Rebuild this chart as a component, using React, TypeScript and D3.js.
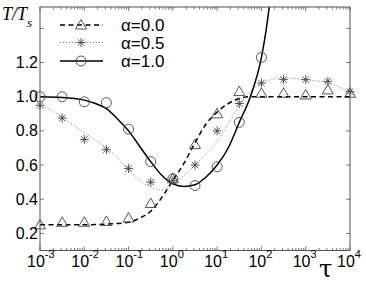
import * as d3 from "d3";

const W = 366;
const H = 284;
const PLOT = { left: 40, right: 350, top: 7, bottom: 250.5 };

// marker positions: exponents of tau (half decades)
const markerExp = [-3, -2.5, -2, -1.5, -1, -0.5, 0, 0.5, 1, 1.5, 2, 2.5, 3, 3.5, 4];
const markA0 = [0.25, 0.265, 0.265, 0.27, 0.29, 0.375, 0.52, 0.72, 0.9, 1.03, 1.02, 1.02, 1.01, 1.04, 1.02];
const markA05 = [0.95, 0.875, 0.75, 0.69, 0.58, 0.5, 0.51, 0.6, 0.8, 0.96, 1.08, 1.1, 1.1, 1.09, 1.03];
const markA1 = [1.0, 1.0, 0.97, 0.965, 0.81, 0.62, 0.52, 0.48, 0.59, 0.85, 1.23];

// theory curves (exponent, value)
const curveA0: [number, number][] = [
  [-3, 0.25], [-2, 0.25], [-1.5, 0.255], [-1, 0.265], [-0.75, 0.29], [-0.5, 0.33],
  [-0.25, 0.41], [0, 0.51], [0.25, 0.61], [0.5, 0.73], [0.75, 0.84], [1, 0.91],
  [1.25, 0.96], [1.5, 0.99], [1.75, 1.0], [2, 1.0], [3, 1.0], [4, 1.0],
];
const curveA05: [number, number][] = [
  [-3, 0.95], [-2.75, 0.92], [-2.5, 0.88], [-2.25, 0.835], [-2, 0.79], [-1.75, 0.745],
  [-1.5, 0.7], [-1.25, 0.64], [-1, 0.57], [-0.75, 0.51], [-0.5, 0.47], [-0.25, 0.455],
  [0, 0.49], [0.25, 0.54], [0.5, 0.6], [0.75, 0.665], [1, 0.74], [1.25, 0.84],
  [1.5, 0.95], [1.75, 1.03], [2, 1.08], [2.5, 1.11], [3, 1.1], [3.5, 1.08], [4, 1.03],
];
const curveA1: [number, number][] = [
  [-3, 1.0], [-2.5, 0.995], [-2, 0.98], [-1.75, 0.96], [-1.5, 0.93], [-1.25, 0.87],
  [-1, 0.8], [-0.75, 0.71], [-0.5, 0.62], [-0.25, 0.54], [0, 0.49], [0.25, 0.475],
  [0.5, 0.485], [0.75, 0.53], [1, 0.6], [1.25, 0.7], [1.5, 0.85], [1.75, 1.0],
  [2, 1.23], [2.1, 1.38], [2.2, 1.57],
];

const xExps = [-3, -2, -1, 0, 1, 2, 3, 4];
const yTicks = [0.2, 0.4, 0.6, 0.8, 1.0, 1.2, 1.4];
const yLabels = ["0.2", "0.4", "0.6", "0.8", "1.0", "1.2"];
const legendLabels = ["α=0.0", "α=0.5", "α=1.0"];

const INK = "#000";
const MARK = "#444";
const AXIS = "#555";

const x = d3.scaleLog().domain([1e-3, 1e4]).range([PLOT.left, PLOT.right]);
const y = d3.scaleLinear().domain([0.1, 1.525]).range([PLOT.bottom, PLOT.top]);

const line = d3
  .line<[number, number]>()
  .x((d) => x(Math.pow(10, d[0])))
  .y((d) => y(d[1]))
  .curve(d3.curveMonotoneX);

const Triangle = ({ cx, cy }: { cx: number; cy: number }) => (
  <path
    d={`M${cx},${cy - 5.5}L${cx + 5.5},${cy + 4}L${cx - 5.5},${cy + 4}Z`}
    fill="none"
    stroke={MARK}
    strokeWidth={0.9}
  />
);

const Star = ({ cx, cy }: { cx: number; cy: number }) => {
  const r = 4.5;
  const a = r * 0.707;
  return (
    <g stroke={MARK} strokeWidth={0.9}>
      <line x1={cx - r} y1={cy} x2={cx + r} y2={cy} />
      <line x1={cx} y1={cy - r} x2={cx} y2={cy + r} />
      <line x1={cx - a} y1={cy - a} x2={cx + a} y2={cy + a} />
      <line x1={cx - a} y1={cy + a} x2={cx + a} y2={cy - a} />
    </g>
  );
};

const Circle = ({ cx, cy }: { cx: number; cy: number }) => (
  <circle cx={cx} cy={cy} r={5} fill="none" stroke={MARK} strokeWidth={0.9} />
);

export default function App() {
  const minor: number[] = [];
  for (let e = -3; e < 4; e++) {
    for (let m = 2; m <= 9; m++) minor.push(m * Math.pow(10, e));
  }

  return (
    <svg
      width={W}
      height={H}
      style={{ position: "absolute", left: 0, top: 0, background: "#fff" }}
      fontFamily="'Liberation Sans', Arial, sans-serif"
    >
      <defs>
        <clipPath id="plot-clip">
          <rect x={PLOT.left} y={PLOT.top} width={PLOT.right - PLOT.left} height={PLOT.bottom - PLOT.top} />
        </clipPath>
      </defs>

      {/* ticks */}
      <g stroke={AXIS} strokeWidth={0.8}>
        {minor.map((t, i) => (
          <g key={i}>
            <line x1={x(t)} x2={x(t)} y1={PLOT.bottom} y2={PLOT.bottom - 2.5} />
            <line x1={x(t)} x2={x(t)} y1={PLOT.top} y2={PLOT.top + 2.5} />
          </g>
        ))}
        {xExps.map((e) => (
          <g key={e}>
            <line x1={x(Math.pow(10, e))} x2={x(Math.pow(10, e))} y1={PLOT.bottom} y2={PLOT.bottom - 4} />
            <line x1={x(Math.pow(10, e))} x2={x(Math.pow(10, e))} y1={PLOT.top} y2={PLOT.top + 4} />
          </g>
        ))}
        {yTicks.map((t) => (
          <g key={t}>
            <line x1={PLOT.left} x2={PLOT.left + 4} y1={y(t)} y2={y(t)} />
            <line x1={PLOT.right} x2={PLOT.right - 4} y1={y(t)} y2={y(t)} />
          </g>
        ))}
      </g>

      {/* curves */}
      <g clipPath="url(#plot-clip)" fill="none">
        <path d={line(curveA0) ?? ""} stroke={INK} strokeWidth={1.5} strokeDasharray="5,3.5" />
        <path d={line(curveA05) ?? ""} stroke="#777" strokeWidth={1} strokeDasharray="1,2" />
        <path d={line(curveA1) ?? ""} stroke={INK} strokeWidth={1.5} />
      </g>

      {/* markers */}
      <g>
        {markA0.map((v, i) => (
          <Triangle key={`t${i}`} cx={x(Math.pow(10, markerExp[i]))} cy={y(v)} />
        ))}
        {markA05.map((v, i) => (
          <Star key={`s${i}`} cx={x(Math.pow(10, markerExp[i]))} cy={y(v)} />
        ))}
        {markA1.map((v, i) => (
          <Circle key={`c${i}`} cx={x(Math.pow(10, markerExp[i]))} cy={y(v)} />
        ))}
      </g>

      {/* frame */}
      <rect
        x={PLOT.left}
        y={PLOT.top}
        width={PLOT.right - PLOT.left}
        height={PLOT.bottom - PLOT.top}
        fill="none"
        stroke={AXIS}
        strokeWidth={1}
      />

      {/* y tick labels */}
      <g fontSize={16} textAnchor="end" fill={INK}>
        {yLabels.map((l, i) => (
          <text key={l} x={PLOT.left - 2} y={y(yTicks[i]) + 5.5}>
            {l}
          </text>
        ))}
      </g>

      {/* x tick labels */}
      <g fontSize={16} fill={INK}>
        {xExps.map((e) => (
          <text key={e} x={x(Math.pow(10, e)) - 13} y={267}>
            10
            <tspan fontSize={11} dy={-9}>
              {e}
            </tspan>
          </text>
        ))}
      </g>

      {/* axis labels */}
      <text x={319} y={277} fontSize={24} fontFamily="'DejaVu Serif', serif" fill={INK}>
        τ
      </text>
      <text x={2} y={20} fontSize={18} fontStyle="italic" fontFamily="'Liberation Serif', serif" fill={INK}>
        T/T
        <tspan fontSize={13} dy={7}>
          s
        </tspan>
      </text>

      {/* legend */}
      <g>
        {[0, 1, 2].map((i) => {
          const ly = [25, 42.5, 61][i];
          const labelStyle =
            i === 0
              ? { stroke: INK, strokeWidth: 1.5, strokeDasharray: "5,3.5" }
              : i === 1
              ? { stroke: "#777", strokeWidth: 1, strokeDasharray: "1,2" }
              : { stroke: INK, strokeWidth: 1.5 };
          return (
            <g key={i}>
              <line x1={60} x2={103} y1={ly} y2={ly} {...labelStyle} />
              {i === 0 && <Triangle cx={81} cy={ly} />}
              {i === 1 && <Star cx={81} cy={ly} />}
              {i === 2 && <Circle cx={81} cy={ly} />}
              <text x={121} y={ly + 6} fontSize={17} fill={INK}>
                {legendLabels[i]}
              </text>
            </g>
          );
        })}
      </g>
    </svg>
  );
}
